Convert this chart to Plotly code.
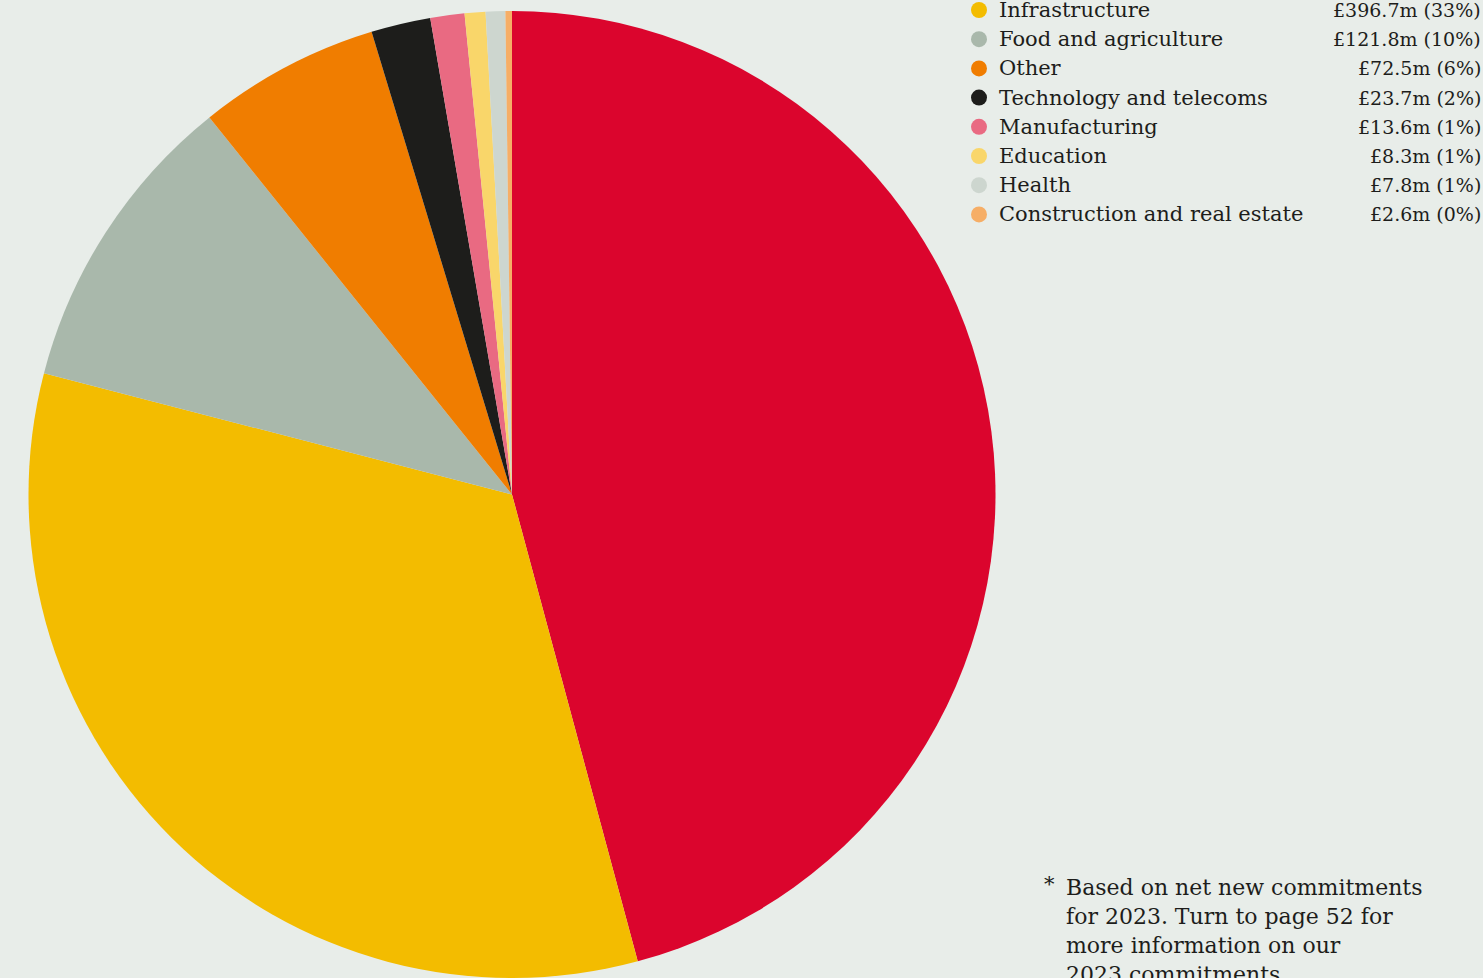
import plotly.graph_objects as go

W, H = 1483, 978

sectors = ["Financial services", "Infrastructure", "Food and agriculture", "Other",
           "Technology and telecoms", "Manufacturing", "Education", "Health",
           "Construction and real estate"]
values = [547.0, 396.7, 121.8, 72.5, 23.7, 13.6, 8.3, 7.8, 2.6]
value_labels = ["", "£396.7m (33%)", "£121.8m (10%)", "£72.5m (6%)", "£23.7m (2%)",
                "£13.6m (1%)", "£8.3m (1%)", "£7.8m (1%)", "£2.6m (0%)"]
colors = ["#DB052D", "#F3BC00", "#A9B8AB", "#F07D00", "#1D1D1B",
          "#E96A82", "#F9D66A", "#CDD6CF", "#F6AE66"]
footnote = ["Based on net new commitments", "for 2023. Turn to page 52 for",
            "more information on our", "2023 commitments."]

BG = "#E8EDE9"
FONT = "DejaVu Serif"
TXT = "#1D1D1B"

fig = go.Figure()
fig.add_trace(go.Pie(
    labels=sectors, values=values, sort=False, direction="clockwise", rotation=0,
    marker=dict(colors=colors, line=dict(width=0)),
    textinfo="none", hoverinfo="label+value+percent", showlegend=False,
    domain=dict(x=[28.5 / W, 995.5 / W], y=[0, 967 / H]),
))

def px(x):
    return x / W

def py(y):
    return 1 - y / H

annotations = []
shapes = []
row0, step = -19.2, 29.2
# first legend row (largest sector) lies above the visible page area in the reference
for i, (name, lab, col) in enumerate(zip(sectors, value_labels, colors)):
    if i == 0:
        continue
    yc = row0 + i * step
    shapes.append(dict(type="circle", xref="paper", yref="paper",
                       x0=px(971), x1=px(987), y0=py(yc + 8), y1=py(yc - 8),
                       fillcolor=col, line=dict(width=0)))
    annotations.append(dict(text=name, x=px(997), y=py(yc), xref="paper", yref="paper",
                            xanchor="left", yanchor="middle", showarrow=False,
                            font=dict(family=FONT, size=21, color=TXT)))
    annotations.append(dict(text=lab, x=px(1483), y=py(yc), xref="paper", yref="paper",
                            xanchor="right", yanchor="middle", showarrow=False,
                            font=dict(family=FONT, size=19, color=TXT)))

annotations.append(dict(text="*", x=px(1042), y=py(884), xref="paper", yref="paper",
                        xanchor="left", yanchor="middle", showarrow=False,
                        font=dict(family=FONT, size=21, color=TXT)))
for j, line in enumerate(footnote):
    annotations.append(dict(text=line, x=px(1064), y=py(887 + j * 29), xref="paper",
                            yref="paper", xanchor="left", yanchor="middle", showarrow=False,
                            font=dict(family=FONT, size=22, color=TXT)))

fig.update_layout(
    width=W, height=H, margin=dict(l=0, r=0, t=0, b=0),
    paper_bgcolor=BG, plot_bgcolor=BG,
    annotations=annotations, shapes=shapes,
)

fig.write_html("out.html")
